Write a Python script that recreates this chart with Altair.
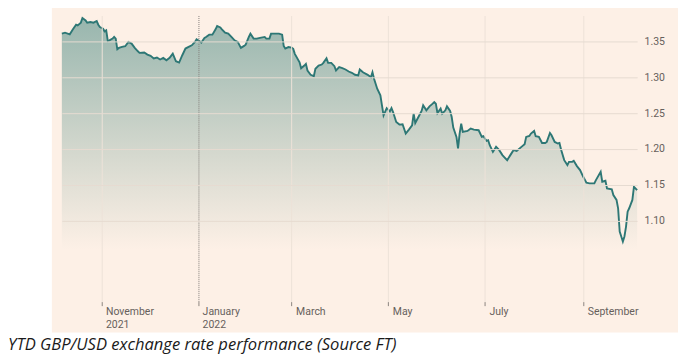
import altair as alt
import pandas as pd

# GBP/USD closing levels
dates = [
    "2021-10-07", "2021-10-09", "2021-10-12", "2021-10-14", "2021-10-16", "2021-10-17", "2021-10-19",
    "2021-10-20", "2021-10-22", "2021-10-23", "2021-10-25", "2021-10-27", "2021-10-29", "2021-10-30",
    "2021-10-31",
    "2021-11-02", "2021-11-03", "2021-11-04", "2021-11-05", "2021-11-06", "2021-11-08", "2021-11-09",
    "2021-11-10", "2021-11-11", "2021-11-12", "2021-11-14", "2021-11-16", "2021-11-18", "2021-11-20",
    "2021-11-22", "2021-11-24", "2021-11-25", "2021-11-28", "2021-11-30",
    "2021-12-02", "2021-12-04", "2021-12-06", "2021-12-08", "2021-12-10", "2021-12-12", "2021-12-14",
    "2021-12-16", "2021-12-18", "2021-12-20", "2021-12-22", "2021-12-24", "2021-12-26", "2021-12-28",
    "2021-12-30", "2021-12-31",
    "2022-01-02", "2022-01-03", "2022-01-05", "2022-01-06", "2022-01-08", "2022-01-10", "2022-01-12",
    "2022-01-13", "2022-01-15", "2022-01-16", "2022-01-18", "2022-01-20", "2022-01-22", "2022-01-24",
    "2022-01-26", "2022-01-28", "2022-01-30", "2022-01-31",
    "2022-02-02", "2022-02-03", "2022-02-05", "2022-02-07", "2022-02-09", "2022-02-12", "2022-02-13",
    "2022-02-15", "2022-02-16", "2022-02-18", "2022-02-21", "2022-02-23", "2022-02-24", "2022-02-25",
    "2022-02-27",
    "2022-03-01", "2022-03-02", "2022-03-03", "2022-03-06", "2022-03-07", "2022-03-09", "2022-03-10",
    "2022-03-11", "2022-03-13", "2022-03-15", "2022-03-16", "2022-03-18", "2022-03-20", "2022-03-21",
    "2022-03-23", "2022-03-24", "2022-03-26", "2022-03-28", "2022-03-29", "2022-03-31",
    "2022-04-02", "2022-04-04", "2022-04-06", "2022-04-08", "2022-04-10", "2022-04-12", "2022-04-13",
    "2022-04-15", "2022-04-18", "2022-04-20", "2022-04-21", "2022-04-22", "2022-04-24", "2022-04-26",
    "2022-04-27", "2022-04-28", "2022-04-30",
    "2022-05-02", "2022-05-03", "2022-05-04", "2022-05-06", "2022-05-08", "2022-05-10", "2022-05-12",
    "2022-05-14", "2022-05-16", "2022-05-17", "2022-05-18", "2022-05-20", "2022-05-22", "2022-05-23",
    "2022-05-25", "2022-05-27", "2022-05-29", "2022-05-30", "2022-05-31",
    "2022-06-01", "2022-06-03", "2022-06-04", "2022-06-06", "2022-06-07", "2022-06-09", "2022-06-10",
    "2022-06-11", "2022-06-13", "2022-06-14", "2022-06-15", "2022-06-16", "2022-06-17", "2022-06-20",
    "2022-06-22", "2022-06-24", "2022-06-27", "2022-06-29", "2022-06-30",
    "2022-07-02", "2022-07-03", "2022-07-04", "2022-07-06", "2022-07-08", "2022-07-10", "2022-07-12",
    "2022-07-13", "2022-07-15", "2022-07-17", "2022-07-19", "2022-07-21", "2022-07-24", "2022-07-26",
    "2022-07-27", "2022-07-29", "2022-07-30",
    "2022-08-01", "2022-08-02", "2022-08-04", "2022-08-06", "2022-08-08", "2022-08-09", "2022-08-11",
    "2022-08-12", "2022-08-14", "2022-08-16", "2022-08-17", "2022-08-18", "2022-08-20", "2022-08-22",
    "2022-08-23", "2022-08-25", "2022-08-26", "2022-08-28", "2022-08-30",
    "2022-09-01", "2022-09-03", "2022-09-05", "2022-09-08", "2022-09-09", "2022-09-12", "2022-09-13",
    "2022-09-15", "2022-09-16", "2022-09-19", "2022-09-20", "2022-09-22", "2022-09-23", "2022-09-24",
    "2022-09-25", "2022-09-26", "2022-09-27", "2022-09-28", "2022-09-29", "2022-09-30",
    "2022-10-02", "2022-10-03", "2022-10-05",
]

gbp_usd = [
    1.3607, 1.3621, 1.3597, 1.3667, 1.3732, 1.3722, 1.3760, 1.3825, 1.3792, 1.3760, 1.3769, 1.3760,
    1.3783, 1.3732, 1.3700,
    1.3676, 1.3639, 1.3653, 1.3506, 1.3514, 1.3538, 1.3561, 1.3538, 1.3389, 1.3408, 1.3422, 1.3431,
    1.3492, 1.3468, 1.3408, 1.3361, 1.3339, 1.3343, 1.3315,
    1.3297, 1.3260, 1.3274, 1.3246, 1.3269, 1.3236, 1.3269, 1.3329, 1.3222, 1.3204, 1.3306, 1.3399,
    1.3422, 1.3444, 1.3492, 1.3528,
    1.3500, 1.3482, 1.3547, 1.3561, 1.3593, 1.3593, 1.3667, 1.3714, 1.3694, 1.3667, 1.3621, 1.3607,
    1.3561, 1.3514, 1.3492, 1.3408, 1.3436, 1.3454,
    1.3561, 1.3607, 1.3538, 1.3538, 1.3547, 1.3561, 1.3538, 1.3538, 1.3607, 1.3607, 1.3607, 1.3593,
    1.3436, 1.3399, 1.3420,
    1.3412, 1.3394, 1.3325, 1.3208, 1.3125, 1.3162, 1.3186, 1.3093, 1.3033, 1.3014, 1.3117, 1.3162,
    1.3176, 1.3200, 1.3264, 1.3200, 1.3200, 1.3153, 1.3093, 1.3139,
    1.3125, 1.3107, 1.3079, 1.3061, 1.3033, 1.3024, 1.3107, 1.3069, 1.3033, 1.3000, 1.3069, 1.2978,
    1.2839, 1.2746, 1.2607, 1.2468, 1.2569,
    1.2524, 1.2569, 1.2514, 1.2375, 1.2339, 1.2343, 1.2214, 1.2269, 1.2329, 1.2492, 1.2361, 1.2444,
    1.2528, 1.2607, 1.2538, 1.2593, 1.2631, 1.2653, 1.2631,
    1.2500, 1.2561, 1.2492, 1.2538, 1.2593, 1.2528, 1.2444, 1.2297, 1.2167, 1.2006, 1.2214, 1.2353,
    1.2236, 1.2250, 1.2283, 1.2269, 1.2260, 1.2167, 1.2176,
    1.2111, 1.2121, 1.2051, 1.1958, 1.2028, 1.1982, 1.1913, 1.1889, 1.1843, 1.1913, 1.1982, 1.1972,
    1.2028, 1.2065, 1.2167, 1.2181, 1.2214,
    1.2250, 1.2176, 1.2167, 1.2083, 1.2083, 1.2097, 1.2222, 1.2190, 1.2097, 1.2075, 1.2083, 1.1992,
    1.1843, 1.1774, 1.1819, 1.1819, 1.1833, 1.1760, 1.1704,
    1.1611, 1.1528, 1.1519, 1.1519, 1.1565, 1.1681, 1.1542, 1.1556, 1.1450, 1.1436, 1.1357, 1.1288,
    1.1172, 1.0847, 1.0778, 1.0708, 1.0778, 1.0917, 1.1125, 1.1172,
    1.1288, 1.1472, 1.1426,
]

tick_dates = ["2021-11-01", "2022-01-01", "2022-03-01", "2022-05-01", "2022-07-01", "2022-09-01"]
tick_labels = [["November", "2021"], ["January", "2022"], ["March"], ["May"], ["July"], ["September"]]
y_ticks = [1.10, 1.15, 1.20, 1.25, 1.30, 1.35]
y_domain = [0.987, 1.386]
area_floor = 1.06
caption = "YTD GBP/USD exchange rate performance (Source FT)"

PEACH = "#fdf0e6"
LINE = "#2d7775"
TEXT = "#66605c"


def dt(s):
    y, m, d = (int(p) for p in s.split("-"))
    return alt.DateTime(year=y, month=m, date=d)


df = pd.DataFrame({"date": pd.to_datetime(dates), "rate": gbp_usd})

# label expression built from the tick label lists
parts = []
for s, lab in zip(tick_dates, tick_labels):
    y, m, _ = (int(p) for p in s.split("-"))
    key = y * 100 + (m - 1)
    arr = "[" + ",".join("'" + t + "'" for t in lab) + "]"
    parts.append(f"(year(datum.value)*100+month(datum.value))=={key} ? {arr} : ")
label_expr = "".join(parts) + "''"

year_start = "month(datum.value) === 0"

x_enc = alt.X(
    "date:T",
    scale=alt.Scale(domain=[dt(dates[0]), dt(dates[-1])]),
    axis=alt.Axis(
        values=[dt(s) for s in tick_dates],
        labelExpr=label_expr,
        title=None,
        domain=False,
        grid=True,
        gridColor={"condition": {"test": year_start, "value": "#85807b"}, "value": "#ede2d8"},
        gridDash={"condition": {"test": year_start, "value": [1, 1]}, "value": []},
        gridWidth=1,
        tickColor="#8c8580",
        tickSize=4,
        labelAlign="left",
        labelBaseline="top",
        labelOffset=4,
        labelPadding=1,
        labelColor=TEXT,
        labelFont="Roboto",
        labelFontSize=10.5,
        labelLineHeight=13,
        labelOverlap=False,
        labelFlush=False,
        zindex=1,
    ),
)

y_enc = alt.Y(
    "rate:Q",
    scale=alt.Scale(domain=y_domain, nice=False, zero=False),
    axis=alt.Axis(
        orient="right",
        values=y_ticks,
        format=".2f",
        title=None,
        domain=False,
        ticks=False,
        grid=True,
        gridColor="#e6dbd1",
        labelPadding=7,
        labelColor=TEXT,
        labelFont="Roboto",
        labelFontSize=10.5,
        zindex=1,
    ),
)

panel = alt.Chart(pd.DataFrame({"k": [0]})).mark_rect(color=PEACH).encode(
    x=alt.value(-10), x2=alt.value(618), y=alt.value(-9), y2=alt.value(318)
)

gradient = alt.Gradient(
    gradient="linear",
    stops=[
        alt.GradientStop(color="#98b6ae", offset=0),
        alt.GradientStop(color="#d6d9cf", offset=0.6),
        alt.GradientStop(color=PEACH, offset=1),
    ],
    x1=1, x2=1, y1=0, y2=1,
)

area = alt.Chart(df).mark_area(color=gradient).encode(
    x=x_enc, y=y_enc, y2=alt.datum(area_floor)
)

line = alt.Chart(df).mark_line(color=LINE, strokeWidth=1.9).encode(x=x_enc, y=y_enc)

chart = (
    alt.layer(panel, area, line)
    .properties(
        width=577,
        height=287,
        autosize=alt.AutoSizeParams(type="none"),
        padding={"left": 54, "top": 7, "right": 42, "bottom": 52},
        background="white",
        title=alt.TitleParams(
            text=caption,
            orient="bottom",
            anchor="start",
            frame="group",
            dx=-54,
            offset=5,
            font="Open Sans",
            fontStyle="italic",
            fontWeight="normal",
            fontSize=16.6,
            color="#1a1a1a",
        ),
    )
    .configure_view(stroke=None, fill=None)
)

chart.save("out.html", embed_options={"renderer": "svg", "actions": False})
